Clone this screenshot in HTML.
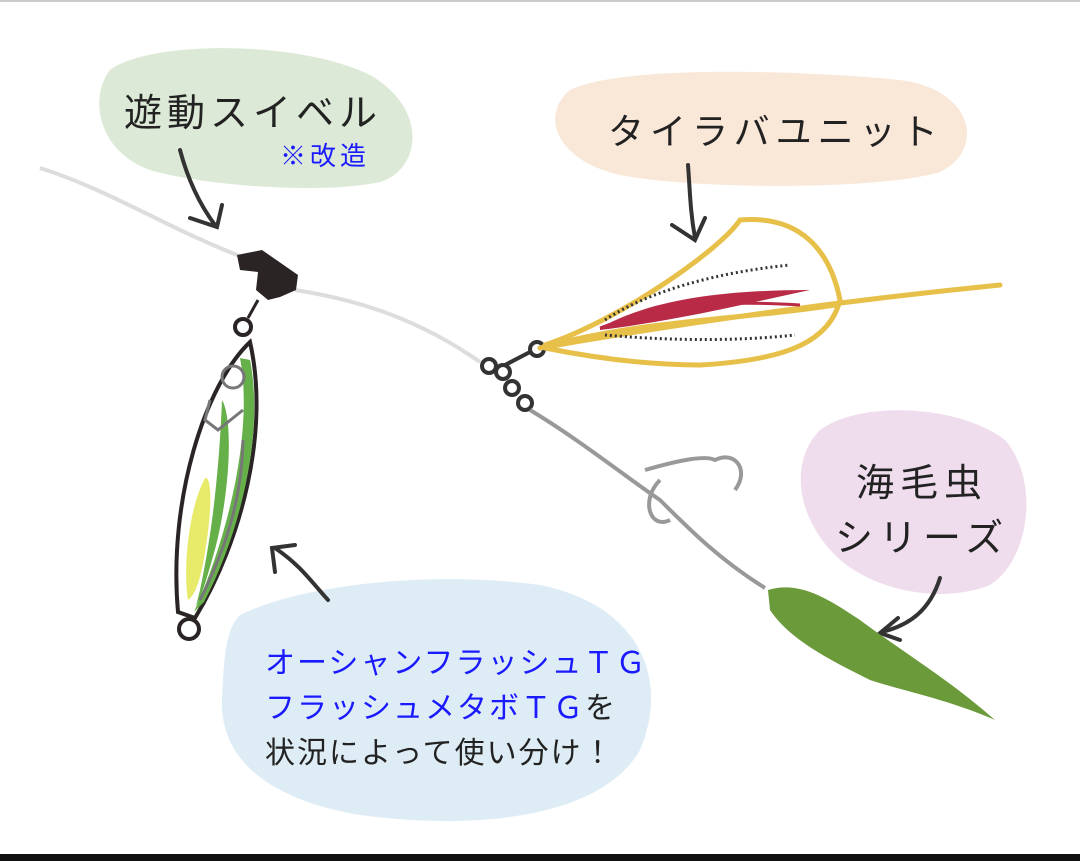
<!DOCTYPE html>
<html><head><meta charset="utf-8"><style>
html,body{margin:0;padding:0;background:#fff}
body{width:1080px;height:861px;position:relative;overflow:hidden;font-family:"Liberation Sans","Noto Sans CJK JP",sans-serif}
.t{position:absolute;white-space:nowrap;color:#222;font-size:36px;letter-spacing:6px}
.b{color:#1a1aff}
</style></head><body>
<svg width="1080" height="861" style="position:absolute;left:0;top:0">
<rect x="0" y="0" width="1080" height="2" fill="#ccc"/>
<rect x="0" y="854" width="1080" height="7" fill="#111"/>
<path d="M110,70 C150,40 300,40 370,75 C430,110 420,170 380,182 C320,195 200,185 150,170 C95,150 90,95 110,70Z" fill="#dce9d6"/>
<path d="M570,90 C620,65 800,70 900,80 C975,90 985,150 940,172 C880,190 700,190 620,175 C555,160 540,115 570,90Z" fill="#f9e7d7"/>
<path d="M820,430 C860,400 960,405 1005,440 C1040,480 1030,560 990,585 C940,605 870,590 835,555 C795,515 790,460 820,430Z" fill="#efdded"/>
<path d="M240,615 C300,585 430,570 540,585 C640,605 670,680 640,750 C600,820 470,830 360,815 C270,800 220,760 222,700 C224,660 225,630 240,615Z" fill="#deecf5"/>
<path d="M40,168 C110,190 170,230 245,258" stroke="#ddd" stroke-width="4" fill="none"/>
<path d="M295,290 C360,300 420,320 480,362" stroke="#ddd" stroke-width="4" fill="none"/>
<path d="M237,255 L262,250 L298,275 L296,290 L280,297 L268,300 L256,290 L258,272 L240,270Z" fill="#2a2424"/>
<circle cx="243" cy="327" r="8" fill="none" stroke="#2a2424" stroke-width="4"/>
<line x1="248" y1="318" x2="258" y2="300" stroke="#2a2424" stroke-width="3"/>
<path d="M250,342 C205,385 168,500 178,612 L195,618 C242,540 270,430 250,342Z" fill="#fff" stroke="#2a2424" stroke-width="4"/>
<path d="M240,358 C252,420 235,520 194,612 L204,602 C242,530 264,430 250,360Z" fill="#66b04a"/>
<path d="M222,400 C234,420 230,500 212,560 C205,585 200,600 196,606 L200,590 C215,520 220,450 222,400Z" fill="#66b04a"/>
<path d="M205,478 C212,476 212,510 206,545 C202,575 196,595 188,600 C183,570 188,510 205,478Z" fill="#e8ea6a"/>
<circle cx="233" cy="377" r="11" fill="none" stroke="#777" stroke-width="3"/>
<path d="M210,400 L205,420 L218,430 L243,410" fill="none" stroke="#777" stroke-width="3"/>
<path d="M243,440 C242,500 225,550 200,600" stroke="#777" stroke-width="3" fill="none"/>
<circle cx="189" cy="629" r="10" fill="none" stroke="#2a2424" stroke-width="4"/>
<g stroke="#333" stroke-width="4" fill="none" stroke-linecap="round">
<path d="M180,150 C188,180 200,205 215,225"/><path d="M190,218 L217,227 L222,205"/>
<path d="M688,165 C690,190 690,210 695,238"/><path d="M672,225 L695,240 L705,218"/>
<path d="M328,600 C310,580 300,565 275,548"/><path d="M275,572 L272,548 L295,545"/>
<path d="M940,578 C930,610 910,625 882,632"/><path d="M898,618 L880,633 L900,640"/>
</g>
<g fill="none" stroke="#333" stroke-width="4">
<circle cx="489" cy="366" r="7"/><circle cx="503" cy="372" r="7"/><circle cx="512" cy="388" r="7"/><circle cx="525" cy="403" r="7"/><circle cx="537" cy="349" r="7"/>
<line x1="505" y1="365" x2="530" y2="352"/>
</g>
<g fill="none" stroke="#e7c04a" stroke-width="5" stroke-linecap="round">
<path d="M540,348 C640,320 740,320 835,305"/>
<path d="M540,348 C700,320 850,300 1000,285"/>
<path d="M545,345 C620,320 720,250 740,220 C800,215 830,250 840,300 C830,340 790,360 700,365 C640,365 580,355 545,348"/>
</g>
<path d="M600,328 C650,300 720,290 810,290 C740,305 680,320 600,330Z" fill="#b82a45"/>
<path d="M600,328 C660,305 720,300 800,305" stroke="#b82a45" stroke-width="3" fill="none"/>
<path d="M605,320 C650,290 720,272 790,265" stroke="#333" stroke-width="3" stroke-dasharray="2,3" fill="none"/>
<path d="M605,335 C660,340 730,342 795,335" stroke="#333" stroke-width="3" stroke-dasharray="2,3" fill="none"/>
<g fill="none" stroke="#999" stroke-width="4">
<path d="M530,410 C580,440 630,480 660,500 C690,530 720,560 765,588"/>
<path d="M645,470 C680,460 705,455 715,460 C735,450 750,470 735,490"/>
<path d="M660,480 C640,500 650,530 670,520"/>
</g>
<path d="M768,590 C800,580 830,600 860,620 C900,650 950,680 995,720 C950,700 900,690 870,680 C830,660 790,640 770,610Z" fill="#6a9a3a"/>
</svg>
<div class="t" style="left:124px;top:82px;font-size:38px;letter-spacing:5px">遊動スイベル</div>
<div class="t b" style="left:280px;top:136px;font-size:26px;letter-spacing:4px">※改造</div>
<div class="t" style="left:608px;top:103px">タイラバユニット</div>
<div class="t" style="left:856px;top:452px;font-size:38px">海毛虫</div>
<div class="t" style="left:835px;top:507px;font-size:38px">シリーズ</div>
<div class="t b" style="left:265px;top:638px;font-size:30px;letter-spacing:2px">オーシャンフラッシュＴＧ</div>
<div class="t" style="left:265px;top:683px;font-size:30px;letter-spacing:2px"><span class="b">フラッシュメタボＴＧ</span>を</div>
<div class="t" style="left:265px;top:728px;font-size:30px;letter-spacing:2px">状況によって使い分け！</div>
</body></html>
